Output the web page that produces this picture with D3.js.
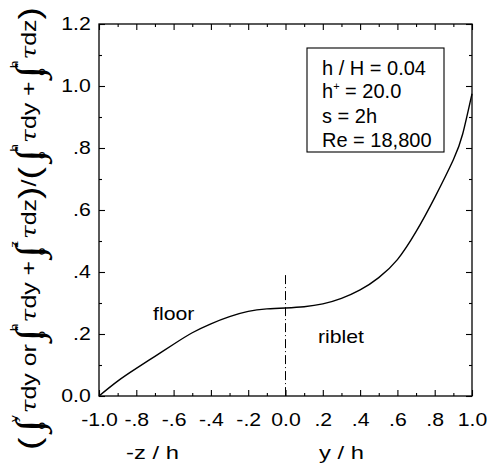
<!DOCTYPE html>
<html>
<head>
<meta charset="utf-8">
<script src="https://cdn.jsdelivr.net/npm/d3@7"></script>
<style>
  body { margin: 0; background: #fff; }
  svg text { font-family: "Liberation Sans", Arial, sans-serif; fill: #000; }
</style>
</head>
<body>
<svg id="chart" width="487" height="467"></svg>
<script>
"use strict";

// values
const floorX = [-1.0, -0.9, -0.8, -0.7, -0.6, -0.5, -0.4, -0.3, -0.2, -0.1, 0.0];
const floorY = [0.0, 0.048, 0.089, 0.128, 0.167, 0.204, 0.233, 0.256, 0.273, 0.281, 0.284];
const ribletX = [0.0, 0.1, 0.2, 0.3, 0.4, 0.5, 0.6, 0.7, 0.8, 0.9, 0.95, 1.0];
const ribletY = [0.284, 0.288, 0.297, 0.315, 0.342, 0.382, 0.44, 0.53, 0.64, 0.762, 0.845, 0.975];

const xTicks = [-1.0, -0.8, -0.6, -0.4, -0.2, 0.0, 0.2, 0.4, 0.6, 0.8, 1.0];
const xTickLabels = ["-1.0", "-.8", "-.6", "-.4", "-.2", "0.0", ".2", ".4", ".6", ".8", "1.0"];
const xMinor = [-0.9, -0.7, -0.5, -0.3, -0.1, 0.1, 0.3, 0.5, 0.7, 0.9];
const yTicks = [0.0, 0.2, 0.4, 0.6, 0.8, 1.0, 1.2];
const yTickLabels = ["0.0", ".2", ".4", ".6", ".8", "1.0", "1.2"];
const yMinor = [0.1, 0.3, 0.5, 0.7, 0.9, 1.1];

const legendLines = [["h / H = 0.04"], ["h", "+", " = 20.0"], ["s = 2h"], ["Re = 18,800"]];

let padLeft = 99, padRight = 472, padTop = 24, padBottom = 396;
const stretch = 1.18;

let svg = d3.select('#chart');

let xScale = d3.scaleLinear().domain([-1, 1]).range([padLeft, padRight]);
let yScale = d3.scaleLinear().domain([0, 1.2]).range([padBottom, padTop]);

const drawAxes = () => {
    let addAxis = (axis, tx, ty) => {
        let g = svg.append('g')
            .attr('transform', 'translate(' + tx + ',' + ty + ')')
            .call(axis);
        g.select('.domain').remove();
        g.selectAll('line').attr('stroke', '#000').attr('stroke-width', 1.1);
        return g;
    };

    let bx = addAxis(d3.axisBottom(xScale).tickValues(xTicks).tickSize(-6).tickSizeOuter(0)
        .tickPadding(17).tickFormat((d, i) => xTickLabels[i]), 0, padBottom);
    bx.selectAll('text').style('font-size', '18px').attr('transform', 'scale(' + stretch + ',1)');
    addAxis(d3.axisBottom(xScale).tickValues(xMinor).tickSize(-3).tickFormat(''), 0, padBottom);
    addAxis(d3.axisTop(xScale).tickValues(xTicks).tickSize(-6).tickFormat(''), 0, padTop);
    addAxis(d3.axisTop(xScale).tickValues(xMinor).tickSize(-3).tickFormat(''), 0, padTop);

    let ly = addAxis(d3.axisLeft(yScale).tickValues(yTicks).tickSize(-6).tickSizeOuter(0)
        .tickPadding(7).tickFormat((d, i) => yTickLabels[i]), padLeft, 0);
    ly.selectAll('text').style('font-size', '18px').attr('transform', 'scale(' + stretch + ',1)');
    addAxis(d3.axisLeft(yScale).tickValues(yMinor).tickSize(-3).tickFormat(''), padLeft, 0);
    addAxis(d3.axisRight(yScale).tickValues(yTicks).tickSize(-6).tickFormat(''), padRight, 0);
    addAxis(d3.axisRight(yScale).tickValues(yMinor).tickSize(-3).tickFormat(''), padRight, 0);

    svg.append('rect')
        .attr('x', padLeft).attr('y', padTop)
        .attr('width', padRight - padLeft).attr('height', padBottom - padTop)
        .attr('fill', 'none').attr('stroke', '#000').attr('stroke-width', 1.3);
};

const drawCurves = () => {
    let line = d3.line()
        .x(d => xScale(d[0]))
        .y(d => yScale(d[1]))
        .curve(d3.curveNatural);

    let floorPts = floorX.map((x, i) => [x, floorY[i]]);
    let ribletPts = ribletX.map((x, i) => [x, ribletY[i]]);

    [floorPts, ribletPts].forEach(pts => {
        svg.append('path')
            .attr('d', line(pts))
            .attr('fill', 'none')
            .attr('stroke', '#000')
            .attr('stroke-width', 1.4);
    });

    // dash-dot divider at y/h = 0
    svg.append('line')
        .attr('x1', xScale(0)).attr('x2', xScale(0))
        .attr('y1', yScale(0.39)).attr('y2', yScale(0))
        .attr('stroke', '#000').attr('stroke-width', 1)
        .attr('stroke-dasharray', '9,3,1,3');

    svg.append('text')
        .attr('x', xScale(-0.71) / stretch).attr('y', yScale(0.245))
        .attr('transform', 'scale(' + stretch + ',1)')
        .style('font-size', '18px')
        .text('floor');
    svg.append('text')
        .attr('x', xScale(0.174) / stretch).attr('y', yScale(0.171))
        .attr('transform', 'scale(' + stretch + ',1)')
        .style('font-size', '18px')
        .text('riblet');
};

const drawLegend = () => {
    svg.append('rect')
        .attr('x', 307).attr('y', 48)
        .attr('width', 137).attr('height', 104)
        .attr('fill', '#fff').attr('stroke', '#000').attr('stroke-width', 1.1);
    let baselines = [75, 98, 123, 147];
    legendLines.forEach((parts, i) => {
        let t = svg.append('text')
            .attr('x', 322).attr('y', baselines[i])
            .style('font-size', '20px');
        if (parts.length === 1) {
            t.text(parts[0]);
        } else {
            t.append('tspan').text(parts[0]);
            t.append('tspan').attr('dy', -8).style('font-size', '11px').text(parts[1]);
            t.append('tspan').attr('dy', 8).text(parts[2]);
        }
    });
};

const drawTitles = () => {
    [['-z / h', 152.5], ['y / h', 341.5]].forEach(([txt, cx]) => {
        svg.append('text')
            .attr('x', cx / 1.25).attr('y', 459)
            .attr('text-anchor', 'middle')
            .attr('transform', 'scale(1.25,1)')
            .style('font-size', '19px')
            .text(txt);
    });

    // y title, laid out piece by piece then stretched to length
    let g = svg.append('g');
    let cursor = 0;
    let piece = (txt, size, family, style, dy) => {
        let t = g.append('text')
            .attr('x', cursor).attr('y', dy || 0)
            .style('font-size', size + 'px')
            .text(txt);
        if (family) t.style('font-family', family);
        if (style) t.style('font-style', style);
        cursor += t.node().getComputedTextLength();
        return t;
    };
    let integral = (upper) => {
        cursor += 2;
        piece('\u222B', 38, '"Liberation Serif", serif', null, 6);
        g.append('text').attr('x', cursor - 2).attr('y', -18)
            .style('font-size', '11px').text(upper);
        g.append('text').attr('x', cursor - 8).attr('y', 9)
            .style('font-size', '11px').text('o');
        cursor += 5;
    };
    let tau = (rest) => {
        piece('\u03C4', 20, '"DejaVu Serif", serif', 'italic');
        piece(rest, 20);
    };

    piece('(', 30, null, null, 4);
    cursor += 2;
    integral('y'); tau('dy or ');
    integral('h'); tau('dy + ');
    integral('z'); tau('dz');
    piece(')', 30, null, null, 4);
    piece(' / ', 20);
    piece('(', 30, null, null, 4);
    cursor += 2;
    integral('h'); tau('dy + ');
    integral('h'); tau('dz');
    piece(')', 30, null, null, 4);

    let k = 443 / cursor;
    g.attr('transform', 'translate(36,450) rotate(-90) scale(' + k + ',1)');
};

drawAxes();
drawCurves();
drawLegend();
drawTitles();
</script>
</body>
</html>
